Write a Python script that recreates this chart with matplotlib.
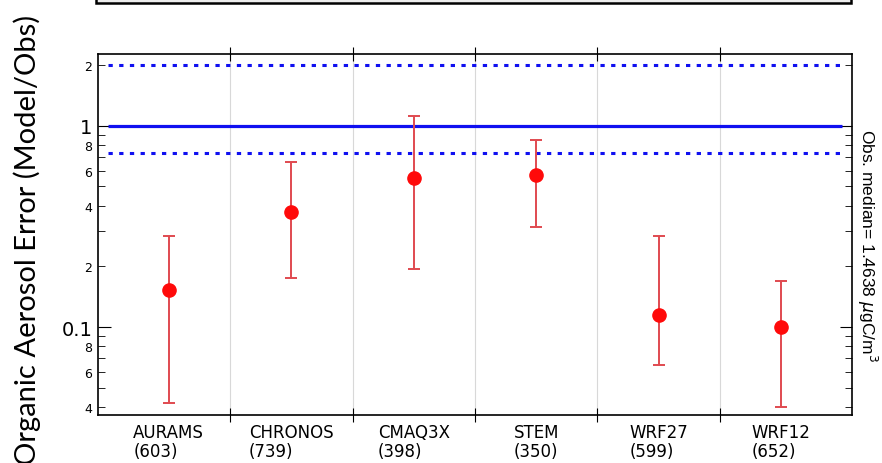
import numpy as np
import matplotlib.pyplot as plt
from matplotlib.ticker import FixedLocator, FixedFormatter
from matplotlib.patches import Rectangle

models = ["AURAMS", "CHRONOS", "CMAQ3X", "STEM", "WRF27", "WRF12"]
counts = [603, 739, 398, 350, 599, 652]
median_err = [0.153, 0.373, 0.551, 0.570, 0.115, 0.100]
err_low = [0.042, 0.175, 0.194, 0.315, 0.065, 0.040]
err_high = [0.284, 0.662, 1.12, 0.852, 0.284, 0.169]
ref_line = 1.0
band = [0.73, 2.0]
obs_median = 1.4638

fig = plt.figure(figsize=(8.82, 4.64), dpi=100)
ax = fig.add_axes([98 / 882, 48 / 464, 754 / 882, 361 / 464])

x = np.arange(len(models))
med = np.array(median_err)
yerr = [med - np.array(err_low), np.array(err_high) - med]

# reference lines
ax.plot([-0.5, 5.5], [ref_line, ref_line], color="#1010f0", lw=2.3, solid_capstyle="butt")
for b in band:
    ax.plot([-0.5, 5.5], [b, b], color="#1010f0", lw=2.2, ls=(0, (1.4, 2.1)), dash_capstyle="butt")

ax.errorbar(x, med, yerr=yerr, fmt="none", ecolor="#e04a50", elinewidth=1.4, capsize=4, capthick=1.4)
ax.plot(x, med, "o", color="#ff0a0a", ms=9.5, zorder=5)

ax.set_yscale("log")
ax.set_ylim(0.0365, 2.28)
ax.set_xlim(-0.578, 5.578)

# y ticks
ax.yaxis.set_major_locator(FixedLocator([0.1, 1]))
ax.yaxis.set_major_formatter(FixedFormatter(["0.1", "1"]))
minor = [0.04, 0.05, 0.06, 0.07, 0.08, 0.09, 0.2, 0.3, 0.4, 0.5, 0.6, 0.7, 0.8, 0.9, 2.0]
minor_lab = ["4", "", "6", "", "8", "", "2", "", "4", "", "6", "", "8", "", "2"]
ax.yaxis.set_minor_locator(FixedLocator(minor))
ax.yaxis.set_minor_formatter(FixedFormatter(minor_lab))
ax.tick_params(axis="y", which="major", direction="in", length=9, labelsize=14, right=True, pad=4)
ax.tick_params(axis="y", which="minor", direction="in", length=5, labelsize=9, right=True, pad=4)

# x ticks at category boundaries
bounds = np.arange(0.5, 5.0, 1.0)
ax.set_xticks(bounds)
ax.set_xticklabels([])
ax.tick_params(axis="x", which="both", direction="inout", length=10, top=True, bottom=True)
for b in bounds:
    ax.axvline(b, color="#d8d8d8", lw=0.8, zorder=0)
for i, (m, c) in enumerate(zip(models, counts)):
    ax.text(i, -0.022, f"{m}\n({c})", transform=ax.get_xaxis_transform(), ha="center", va="top",
            multialignment="left", fontsize=12, linespacing=1.05)

for s in ax.spines.values():
    s.set_linewidth(1.2)

fig.text(27 / 882, 0.483, "Organic Aerosol Error (Model/Obs)", rotation=90, ha="center", va="center",
         fontsize=21, family="Lato")
fig.text(867 / 882, 0.47, f"Obs. median= {obs_median} $\\mu$gC/m$^3$", rotation=-90, ha="center",
         va="center", fontsize=12.5, family="Liberation Sans")

# partially visible legend box at the top
fig.patches.append(Rectangle((96 / 882, 1 - 4 / 464), 755 / 882, 0.2, transform=fig.transFigure,
                             facecolor="#ececec", edgecolor="black", lw=1.8))

fig.savefig("out.png", dpi=100)
